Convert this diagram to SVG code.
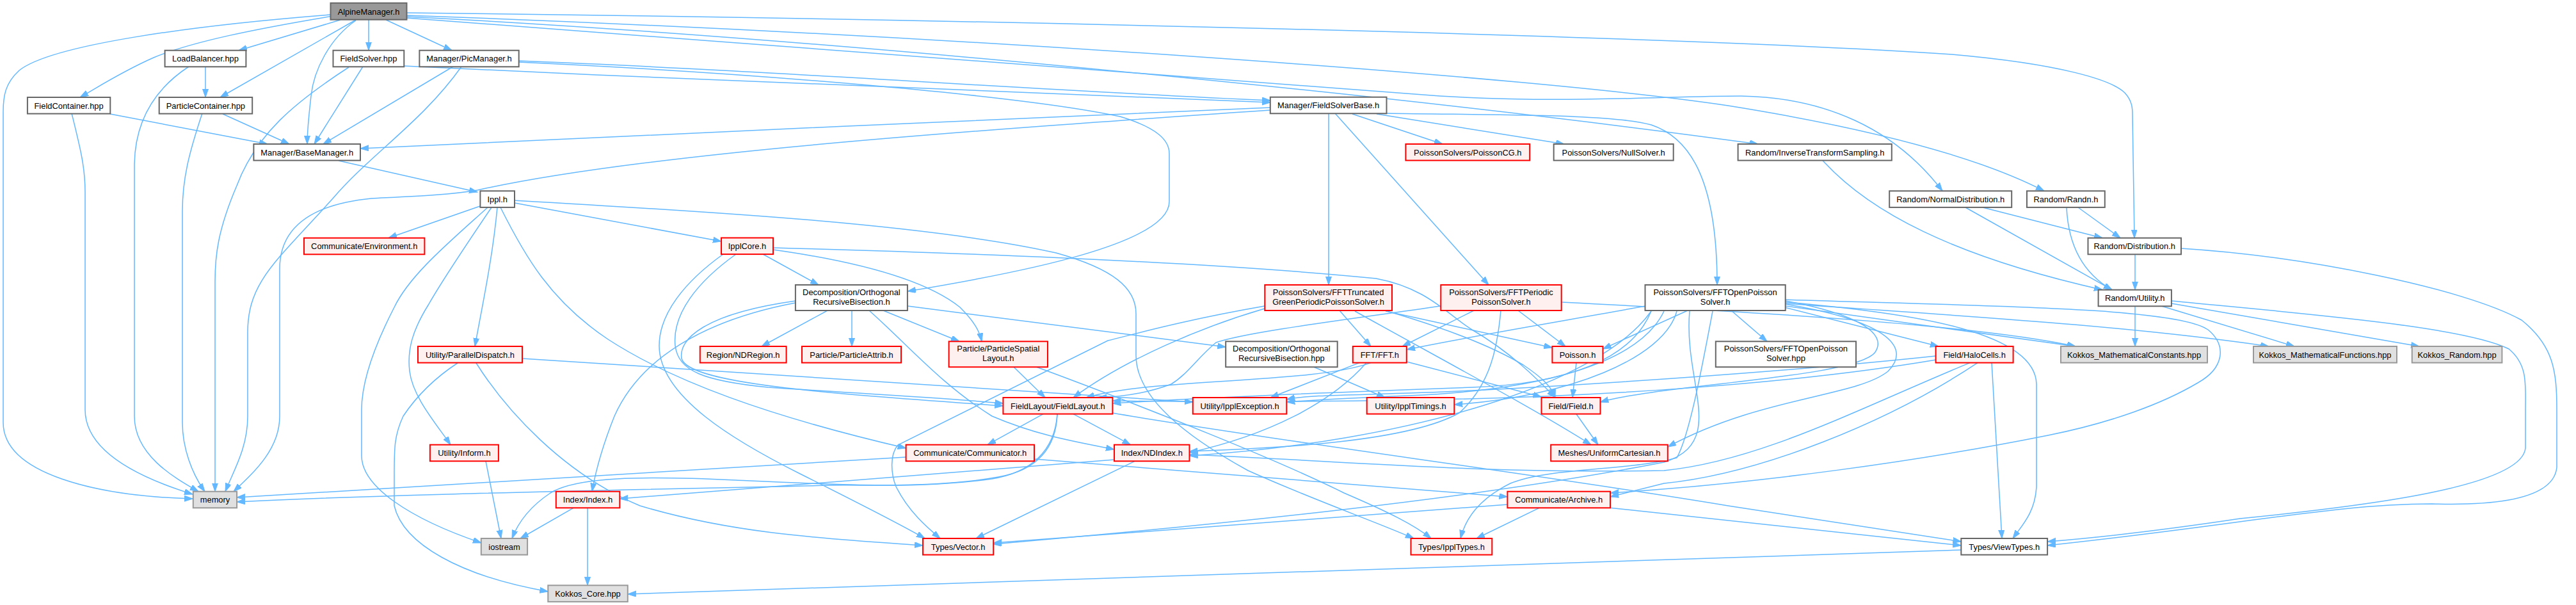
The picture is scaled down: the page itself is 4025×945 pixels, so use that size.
<svg xmlns="http://www.w3.org/2000/svg" width="4025" height="945" viewBox="0 0 4025 945">
<style>
.n rect{stroke-width:2}
.root rect{fill:#999999;stroke:#666666}
.norm rect{fill:#ffffff;stroke:#666666}
.trunc rect{fill:#fff0f0;stroke:#ff0000}
.ext rect{fill:#e0e0e0;stroke:#999999}
.n text{font-family:"Liberation Sans",Arial,Helvetica,sans-serif;font-size:12.9px;fill:#000;text-anchor:middle}
#edges path{fill:none;stroke:#63b8ff;stroke-width:1.5;marker-end:url(#a)}
</style>
<defs>
<marker id="a" markerUnits="userSpaceOnUse" markerWidth="14" markerHeight="10" refX="13" refY="4.5" orient="auto">
<path d="M0,0 L13,4.5 L0,9 z" fill="#63b8ff" stroke="#63b8ff" stroke-width="1"/>
</marker>
</defs>
<rect width="4025" height="945" fill="#ffffff"/>
<g id="edges">
<path d="M516,23 C300,40 80,70 30,110 C8,130 5,150 5,175 L5,660 C5,740 150,775 301,779"/>
<path d="M520,25 C400,45 300,65 240,90 C190,112 155,135 125,152"/>
<path d="M532,31 L373,78.7"/>
<path d="M556,31 L344,152"/>
<path d="M556,32 C515,60 490,110 486,150 C482,185 480,205 480,225"/>
<path d="M576,31 L576,78.7"/>
<path d="M603,31 L706,78.7"/>
<path d="M635,20 C1500,30 2600,55 3050,85 C3220,100 3300,125 3320,145 C3332,158 3332,170 3332,180 L3335,371.7"/>
<path d="M635,24 C1500,55 2400,120 2700,165 C2950,205 3100,250 3194,298.3"/>
<path d="M635,26 C1300,60 2200,150 2747,225"/>
<path d="M635,28 C1200,70 1900,125 2250,150 C2450,162 2600,150 2720,150 C2850,152 2960,200 3035,298.3"/>
<path d="M321,104 L321,152"/>
<path d="M295,104 C240,140 210,190 210,260 L210,650 C210,710 270,745 310,767.7"/>
<path d="M567,104 L491,225"/>
<path d="M545,105 C460,160 400,210 370,290 C340,360 336,400 336,440 L336,767.7"/>
<path d="M631,103 C1100,125 1600,148 1985,160"/>
<path d="M708,104 L505,225"/>
<path d="M721,104 C660,190 580,240 520,310 C430,410 387,440 387,520 L387,650 C387,700 365,735 352,767.7"/>
<path d="M810,95 C1200,110 1600,140 1985,157"/>
<path d="M810,97 C1200,115 1600,150 1750,182 C1810,200 1827,220 1827,240 L1827,315 C1827,380 1600,425 1418,455"/>
<path d="M112,177 C125,230 133,260 133,300 L133,640 C133,710 230,750 301,772"/>
<path d="M172,178 L418,225"/>
<path d="M348,178 L452,225"/>
<path d="M316,177 C295,240 285,280 285,330 L285,660 C285,700 300,740 320,767.7"/>
<path d="M1985,168 C1600,185 900,215 563,232"/>
<path d="M1985,172 C1500,205 1000,240 746,297 C700,305 640,307 580,310 C480,320 437,360 437,420 L437,650 C437,700 400,735 365,767.7"/>
<path d="M2076,177 L2076,445"/>
<path d="M2086,177 L2326,445"/>
<path d="M2113,178 L2254,225"/>
<path d="M2151,178 L2444,225"/>
<path d="M2166,177 C2350,180 2520,178 2580,195 C2640,215 2683,280 2683,445"/>
<path d="M529,251 L746,300"/>
<path d="M750,322 L607,371.7"/>
<path d="M804,317 L1127,377"/>
<path d="M762,324 C700,380 640,430 616,480 C580,550 565,600 565,640 L565,712 C565,760 640,810 752,848"/>
<path d="M768,324 C730,380 690,440 670,475 C645,515 636,545 640,580 C645,620 680,660 704,694.7"/>
<path d="M777,324 C770,400 755,470 742,541"/>
<path d="M782,324 C820,400 860,470 950,530 C1050,595 1200,650 1415.6,700"/>
<path d="M804,313 C1100,330 1450,350 1650,395 C1740,420 1775,450 1775,490 L1775,555 C1775,620 1850,680 1950,735 C2050,780 2150,815 2209,841"/>
<path d="M1192,397 L1279,445"/>
<path d="M1208,390 C1350,410 1450,440 1500,480 C1520,500 1530,515 1534,533.3"/>
<path d="M1208,387 C1500,395 1900,410 2150,435 C2230,450 2260,490 2300,515 C2360,550 2400,590 2430,621"/>
<path d="M1130,397 C1070,440 1030,490 1030,540 C1030,620 1150,690 1250,740 C1330,780 1400,815 1445,841"/>
<path d="M1150,397 C1090,440 1050,490 1055,540 C1060,580 1100,595 1200,605 C1350,615 1480,622 1567.4,630"/>
<path d="M1293,485 L1190,541"/>
<path d="M1331,485 L1331,541"/>
<path d="M1380,485 L1499,533.3"/>
<path d="M1358,485 C1420,540 1470,600 1550,650 C1620,680 1680,690 1741,702"/>
<path d="M1418,478 L1915.2,542"/>
<path d="M1243,473 C1100,500 1000,560 960,650 C940,700 930,740 925,767.7"/>
<path d="M1243,470 C1100,490 1060,530 1065,560 C1075,600 1300,615 1567.4,634"/>
<path d="M715,567 C680,590 650,620 630,650 C616,680 616,700 616,740 L616,790 C630,850 720,900 856.3,924"/>
<path d="M744,567 C790,640 880,740 1000,790 C1150,835 1300,842 1442,852"/>
<path d="M816,560 L1863.8,628"/>
<path d="M759,720.3 L783,841"/>
<path d="M896,793.3 L813,841"/>
<path d="M918,793.3 L918,914.3"/>
<path d="M1415.6,714 L370,777"/>
<path d="M1616,717 L2355.4,776"/>
<path d="M1773,720.3 L1525,841"/>
<path d="M1741,718 L968.3,779"/>
<path d="M1630,646.7 L1543,694.7"/>
<path d="M1677,646.7 L1766.5,694.7"/>
<path d="M1652,646.7 C1650,700 1620,735 1560,745 C1450,765 1300,757 1150,750 C1000,743 900,745 860,770 C830,790 810,815 800,841"/>
<path d="M1652,646.7 C1648,705 1610,738 1550,748 C1450,762 1350,757 1300,758 C1000,765 600,772 370,784"/>
<path d="M1738,645 C2000,690 2400,740 2700,790 C2900,820 3000,835 3064.3,846"/>
<path d="M1619,573 C1800,640 2000,720 2100,770 C2170,800 2210,820 2236,841"/>
<path d="M1584,573.3 L1633,621"/>
<path d="M1976,478 C1850,500 1780,520 1731,532 L1403,695 C1390,710 1392,740 1400,760 C1420,800 1450,825 1469,841"/>
<path d="M2093,485 L2142,541"/>
<path d="M1976,482 C1880,510 1760,560 1677,621"/>
<path d="M2164,485 C2250,510 2330,540 2380,570 C2410,590 2425,605 2430,621"/>
<path d="M2165,486 L2425.4,543"/>
<path d="M2117,486 C2250,560 2400,640 2486,694.7"/>
<path d="M2303,485 L2191,541"/>
<path d="M2372,485 L2446,541"/>
<path d="M2251,478 C2100,500 1950,518 1900,535 C1870,560 1855,585 1830,600 C1790,615 1750,620 1716,621"/>
<path d="M2345,485 C2340,540 2330,600 2280,645 C2200,690 2000,700 1858.5,705"/>
<path d="M2439.7,472 C2800,490 3100,510 3243,541"/>
<path d="M2705,485 L2761,533.3"/>
<path d="M2788,480 L3029,541"/>
<path d="M2790,478 L3243,541"/>
<path d="M2790,474 C3000,490 3300,505 3545,541"/>
<path d="M2637,485 L2504.5,545"/>
<path d="M2571,478 C2450,500 2300,525 2198,546"/>
<path d="M2580,486 C2550,560 2450,600 2300,605 C2100,612 1900,620 1738.4,630"/>
<path d="M2600,486 C2560,570 2400,610 2200,618 C2100,622 2050,625 2010.3,628"/>
<path d="M2620,486 C2600,560 2450,620 2272.3,632"/>
<path d="M2790,470 C2900,490 2950,520 2930,550 C2900,590 2600,600 2500.4,628"/>
<path d="M2790,475 C2940,500 2990,540 2950,580 C2900,620 2750,620 2606,698"/>
<path d="M2790,468 C3100,478 3400,480 3450,515 C3480,540 3475,575 3434,598 C3380,630 3300,660 3200,680 C3000,720 2750,755 2516,770"/>
<path d="M2676,486 C2660,570 2640,680 2620,715 C2550,735 2420,730 2360,755 C2310,780 2290,810 2282,841"/>
<path d="M2790,472 C3000,490 3180,520 3182,600 L3182,760 C3180,800 3160,820 3145,841"/>
<path d="M2640,486 C2630,600 2700,690 2600,722 C2300,780 1900,820 1552.2,850"/>
<path d="M2580,486 C2500,600 2200,690 1858.5,712"/>
<path d="M2463,566.7 L2457,621"/>
<path d="M2463,646.7 L2497,694.7"/>
<path d="M2405,793.3 L2307,841"/>
<path d="M2356,788 L1552.2,848"/>
<path d="M2516,793.3 L3064.3,852"/>
<path d="M3064.3,859 L980.8,928"/>
<path d="M3112,566.6 L3128,841"/>
<path d="M3025,556 C2800,580 2500,600 2300,610 C2150,618 2050,615 2010.3,624"/>
<path d="M3025,562 C2800,600 2500,620 2200,625 C2000,628 1850,628 1738.4,626"/>
<path d="M3078,566.6 C2900,640 2750,720 2600,735 C2300,740 2100,720 1858.5,710"/>
<path d="M3090,566.6 C2950,660 2750,740 2600,755 L2516,776"/>
<path d="M2124,566.6 L1985,621"/>
<path d="M2142,566.6 C2050,600 1800,590 1697,621"/>
<path d="M2197.8,565 L2408.5,620"/>
<path d="M2135,566.6 C2080,630 1980,680 1858.5,707"/>
<path d="M2053,573.3 L2164,621"/>
<path d="M2848,250.7 C2920,330 3050,400 3285,452.7"/>
<path d="M3098,324 L3285,371.7"/>
<path d="M3071,324 L3300,452.7"/>
<path d="M3247,324 L3313,371.7"/>
<path d="M3229,324 C3232,390 3260,430 3300,452.7"/>
<path d="M3336,397.3 L3336,452.7"/>
<path d="M3408,388 C3600,400 3850,450 3940,500 C3990,540 3995,580 3995,640 L3995,730 C3990,780 3900,790 3800,787 C3650,787 3500,820 3199.1,852"/>
<path d="M3336,478.3 L3336,541"/>
<path d="M3378,478.3 L3585,541"/>
<path d="M3393,474 L3780,541"/>
<path d="M3393,470 C3600,490 3850,510 3920,545 C3950,570 3946,600 3946,640 L3946,700 C3940,760 3700,790 3500,810 C3400,825 3300,838 3199.1,846"/>
</g>
<g id="n1" class="n root"><rect x="516.5" y="4.7" width="119" height="26"/><text x="576" y="22.5">AlpineManager.h</text></g>
<g id="n2" class="n norm"><rect x="257.6" y="78.7" width="126.8" height="25.6"/><text x="321" y="96.2">LoadBalancer.hpp</text></g>
<g id="n3" class="n norm"><rect x="520.5" y="78.7" width="110.8" height="25.6"/><text x="575.9" y="96.2">FieldSolver.hpp</text></g>
<g id="n4" class="n norm"><rect x="655.4" y="78.7" width="155.3" height="25.6"/><text x="733" y="96.2">Manager/PicManager.h</text></g>
<g id="n5" class="n norm"><rect x="42.9" y="152" width="129.4" height="25.6"/><text x="107.6" y="169.5">FieldContainer.hpp</text></g>
<g id="n6" class="n norm"><rect x="248.7" y="152" width="145.5" height="25.6"/><text x="321.4" y="169.5">ParticleContainer.hpp</text></g>
<g id="n7" class="n norm"><rect x="1984.8" y="151.7" width="181.7" height="25.6"/><text x="2075.6" y="169.2">Manager/FieldSolverBase.h</text></g>
<g id="n8" class="n norm"><rect x="396.4" y="225" width="166.6" height="25.6"/><text x="479.7" y="242.5">Manager/BaseManager.h</text></g>
<g id="n9" class="n trunc"><rect x="2196.4" y="225" width="193.8" height="25.6"/><text x="2293.3" y="242.5">PoissonSolvers/PoissonCG.h</text></g>
<g id="n10" class="n norm"><rect x="2427.7" y="225" width="187" height="25.6"/><text x="2521.2" y="242.5">PoissonSolvers/NullSolver.h</text></g>
<g id="n11" class="n norm"><rect x="2715.6" y="225" width="240.2" height="25.6"/><text x="2835.7" y="242.5">Random/InverseTransformSampling.h</text></g>
<g id="n12" class="n norm"><rect x="750.4" y="298.3" width="53.6" height="25.6"/><text x="777.2" y="315.8">Ippl.h</text></g>
<g id="n13" class="n norm"><rect x="2952.2" y="298.3" width="191" height="25.6"/><text x="3047.7" y="315.8">Random/NormalDistribution.h</text></g>
<g id="n14" class="n norm"><rect x="3167" y="298.3" width="121.8" height="25.6"/><text x="3227.9" y="315.8">Random/Randn.h</text></g>
<g id="n15" class="n trunc"><rect x="475" y="371.7" width="188.4" height="25.6"/><text x="569.2" y="389.2">Communicate/Environment.h</text></g>
<g id="n16" class="n trunc"><rect x="1127" y="371.5" width="81" height="25.6"/><text x="1167.5" y="389">IpplCore.h</text></g>
<g id="n17" class="n norm"><rect x="3262.5" y="371.7" width="145.5" height="25.6"/><text x="3335.2" y="389.2">Random/Distribution.h</text></g>
<g id="n18" class="n norm"><rect x="1242.9" y="445" width="175" height="40"/><text x="1330.4" y="461">Decomposition/Orthogonal</text><text x="1330.4" y="476">RecursiveBisection.h</text></g>
<g id="n19" class="n trunc"><rect x="1976.3" y="445" width="198.7" height="40"/><text x="2075.6" y="461">PoissonSolvers/FFTTruncated</text><text x="2075.6" y="476">GreenPeriodicPoissonSolver.h</text></g>
<g id="n20" class="n trunc"><rect x="2251.3" y="445" width="188.4" height="40"/><text x="2345.5" y="461">PoissonSolvers/FFTPeriodic</text><text x="2345.5" y="476">PoissonSolver.h</text></g>
<g id="n21" class="n norm"><rect x="2570.5" y="445" width="219.2" height="40"/><text x="2680.1" y="461">PoissonSolvers/FFTOpenPoisson</text><text x="2680.1" y="476">Solver.h</text></g>
<g id="n22" class="n norm"><rect x="3278.6" y="452.7" width="114.3" height="25.6"/><text x="3335.7" y="470.2">Random/Utility.h</text></g>
<g id="n23" class="n trunc"><rect x="653" y="541" width="163" height="25.6"/><text x="734.5" y="558.5">Utility/ParallelDispatch.h</text></g>
<g id="n24" class="n trunc"><rect x="1093.8" y="541" width="134.8" height="25.6"/><text x="1161.2" y="558.5">Region/NDRegion.h</text></g>
<g id="n25" class="n trunc"><rect x="1253" y="541" width="155" height="25.6"/><text x="1330.5" y="558.5">Particle/ParticleAttrib.h</text></g>
<g id="n26" class="n trunc"><rect x="1482.6" y="533.3" width="154.4" height="40"/><text x="1559.8" y="549.3">Particle/ParticleSpatial</text><text x="1559.8" y="564.3">Layout.h</text></g>
<g id="n27" class="n norm"><rect x="1915.2" y="533.3" width="174.5" height="40"/><text x="2002.4" y="549.3">Decomposition/Orthogonal</text><text x="2002.4" y="564.3">RecursiveBisection.hpp</text></g>
<g id="n28" class="n trunc"><rect x="2113.8" y="541" width="84" height="25.6"/><text x="2155.8" y="558.5">FFT/FFT.h</text></g>
<g id="n29" class="n trunc"><rect x="2425.4" y="541" width="79.1" height="25.6"/><text x="2465" y="558.5">Poisson.h</text></g>
<g id="n30" class="n norm"><rect x="2680.8" y="533.3" width="219.2" height="40"/><text x="2790.4" y="549.3">PoissonSolvers/FFTOpenPoisson</text><text x="2790.4" y="564.3">Solver.hpp</text></g>
<g id="n31" class="n trunc"><rect x="3024.6" y="541" width="121" height="25.6"/><text x="3085.1" y="558.5">Field/HaloCells.h</text></g>
<g id="n32" class="n ext"><rect x="3220" y="541" width="229" height="25.6"/><text x="3334.5" y="558.5">Kokkos_MathematicalConstants.hpp</text></g>
<g id="n33" class="n ext"><rect x="3521" y="541" width="224" height="25.6"/><text x="3633" y="558.5">Kokkos_MathematicalFunctions.hpp</text></g>
<g id="n34" class="n ext"><rect x="3768.8" y="541" width="140.6" height="25.6"/><text x="3839.1" y="558.5">Kokkos_Random.hpp</text></g>
<g id="n35" class="n trunc"><rect x="1567.4" y="621" width="171" height="25.6"/><text x="1652.9" y="638.5">FieldLayout/FieldLayout.h</text></g>
<g id="n36" class="n trunc"><rect x="1863.8" y="621" width="146.5" height="25.6"/><text x="1937" y="638.5">Utility/IpplException.h</text></g>
<g id="n37" class="n trunc"><rect x="2135.7" y="621" width="136.6" height="25.6"/><text x="2204" y="638.5">Utility/IpplTimings.h</text></g>
<g id="n38" class="n trunc"><rect x="2408.5" y="621" width="92" height="25.6"/><text x="2454.5" y="638.5">Field/Field.h</text></g>
<g id="n39" class="n trunc"><rect x="671.9" y="694.7" width="107" height="25.6"/><text x="725.4" y="712.2">Utility/Inform.h</text></g>
<g id="n40" class="n trunc"><rect x="1415.6" y="694.7" width="200.4" height="25.6"/><text x="1515.8" y="712.2">Communicate/Communicator.h</text></g>
<g id="n41" class="n trunc"><rect x="1741" y="694.7" width="117.5" height="25.6"/><text x="1799.8" y="712.2">Index/NDIndex.h</text></g>
<g id="n42" class="n trunc"><rect x="2423.2" y="694.7" width="182.6" height="25.6"/><text x="2514.5" y="712.2">Meshes/UniformCartesian.h</text></g>
<g id="n43" class="n ext"><rect x="301.8" y="767.7" width="68.3" height="25.6"/><text x="336" y="785.2">memory</text></g>
<g id="n44" class="n trunc"><rect x="868.8" y="767.7" width="99.5" height="25.6"/><text x="918.5" y="785.2">Index/Index.h</text></g>
<g id="n45" class="n trunc"><rect x="2355.4" y="767.7" width="160.6" height="25.6"/><text x="2435.7" y="785.2">Communicate/Archive.h</text></g>
<g id="n46" class="n ext"><rect x="751.8" y="841" width="72.3" height="25.6"/><text x="788" y="858.5">iostream</text></g>
<g id="n47" class="n trunc"><rect x="1442" y="841" width="110.2" height="25.6"/><text x="1497.1" y="858.5">Types/Vector.h</text></g>
<g id="n48" class="n trunc"><rect x="2204.5" y="841" width="126.8" height="25.6"/><text x="2267.9" y="858.5">Types/IpplTypes.h</text></g>
<g id="n49" class="n norm"><rect x="3064.3" y="841" width="134.8" height="25.6"/><text x="3131.7" y="858.5">Types/ViewTypes.h</text></g>
<g id="n50" class="n ext"><rect x="856.3" y="914.3" width="124.5" height="25.6"/><text x="918.5" y="931.8">Kokkos_Core.hpp</text></g>
</svg>
